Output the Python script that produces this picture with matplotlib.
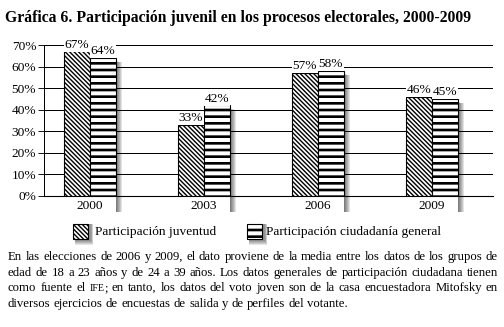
import matplotlib
matplotlib.use("Agg")
import matplotlib.pyplot as plt
from matplotlib.patches import Rectangle
import numpy as np

# ---- data ----
years = ["2000", "2003", "2006", "2009"]
juventud = [67, 33, 57, 46]
ciudadania = [64, 42, 58, 45]
series_names = ["Participación juventud", "Participación ciudadanía general"]
yticks = [0, 10, 20, 30, 40, 50, 60, 70]
ytick_labels = [f"{v}%" for v in yticks]

title = "Gráfica 6. Participación juvenil en los procesos electorales, 2000-2009"
caption_lines = [
    "En las elecciones de 2006 y 2009, el dato proviene de la media entre los datos de los grupos de",
    "edad de 18 a 23 años y de 24 a 39 años. Los datos generales de participación ciudadana tienen",
    "como fuente el IFE; en tanto, los datos del voto joven son de la casa encuestadora Mitofsky en",
    "diversos ejercicios de encuestas de salida y de perfiles del votante.",
]

W, H, DPI = 504, 327, 80
FONT = "Liberation Serif"
plt.rcParams["font.family"] = [FONT, "DejaVu Serif"]
plt.rcParams["hatch.color"] = "black"

HATCH_J, HATCH_C = "\\" * 6, "--"
LW_J, LW_C = 1.25, 2.4
LBL_FS = 12

fig = plt.figure(figsize=(W / DPI, H / DPI), dpi=DPI)
ax = fig.add_axes([44 / W, 1 - 196 / H, (493 - 44) / W, (196 - 45) / H])

x = np.arange(len(years))
bw = 0.228

ax.set_xlim(-0.40, 3.535)
ax.set_ylim(0, 70)
ax.set_yticks(yticks)
ax.set_yticklabels(ytick_labels, fontsize=LBL_FS)
ax.set_xticks(x)
ax.set_xticklabels(years, fontsize=LBL_FS)
ax.tick_params(axis="x", length=0, pad=4)
ax.tick_params(axis="y", length=5, width=0.8, pad=2, direction="out")
for s in ["top", "right"]:
    ax.spines[s].set_visible(False)
ax.spines["left"].set_linewidth(0.9)
ax.spines["bottom"].set_linewidth(1.0)
ax.yaxis.grid(True, color="black", linewidth=0.9)
ax.set_axisbelow(True)


def set_hlw(p, lw):
    try:
        p.set_hatch_linewidth(lw)
    except AttributeError:
        pass


plt.rcParams["hatch.linewidth"] = LW_J
b1 = ax.bar(x - bw / 2, juventud, bw, facecolor="white", edgecolor="black",
            hatch=HATCH_J, linewidth=1.0, zorder=3)
for p in b1:
    set_hlw(p, LW_J)
plt.rcParams["hatch.linewidth"] = LW_C
b2 = ax.bar(x + bw / 2, ciudadania, bw, facecolor="white", edgecolor="black",
            hatch=HATCH_C, linewidth=1.0, zorder=3)
for p in b2:
    set_hlw(p, LW_C)

# pixel -> data conversion
fig.canvas.draw()
p0 = ax.transData.transform((0, 0))
p1 = ax.transData.transform((1, 10))
px_x = 1 / (p1[0] - p0[0])
px_y = 10 / (p1[1] - p0[1])

# soft shadows on the right side of each group
for p, v in zip(b2, ciudadania):
    right = p.get_x() + p.get_width()
    for k in range(6):
        wpx = 1.5 + k
        ax.add_patch(Rectangle((right, -16 * px_y), wpx * px_x,
                               v - (3 + 0.3 * k) * px_y + 16 * px_y,
                               facecolor="black", alpha=0.11, edgecolor="none",
                               zorder=1.5, clip_on=False))

for bars, vals in ((b1, juventud), (b2, ciudadania)):
    for p, v in zip(bars, vals):
        ax.annotate(f"{v}%", (p.get_x() + p.get_width() / 2, v), xytext=(0, 0.5),
                    textcoords="offset points", ha="center", va="bottom", fontsize=LBL_FS,
                    zorder=4, bbox=dict(boxstyle="square,pad=0.05", fc="white", ec="none"))

# legend (manual, with shadows)
leg_items = [(73, 95, HATCH_J, LW_J), (247, 266, HATCH_C, LW_C)]
for (px0, tx, hatch, lw), name in zip(leg_items, series_names):
    size = 15
    ytop = 224
    for k in range(5):
        fig.patches.append(Rectangle(((px0 + 2) / W, 1 - (ytop + size + 1.5 + k) / H),
                                     (size + 1 + k * 0.6) / W, (size + 1.5 + k) / H,
                                     transform=fig.transFigure, facecolor="black",
                                     alpha=0.1, edgecolor="none", zorder=1))
    plt.rcParams["hatch.linewidth"] = lw
    rp = Rectangle((px0 / W, 1 - (ytop + size) / H), size / W, size / H,
                   transform=fig.transFigure, facecolor="white", edgecolor="black",
                   hatch=hatch, linewidth=1.0, zorder=2)
    set_hlw(rp, lw)
    fig.patches.append(rp)
    fig.text(tx / W, 1 - 231.5 / H, name, fontsize=12, ha="left", va="center")

# title
fig.text(5 / W, 1 - 22 / H, title, fontsize=14.2, fontweight="bold", ha="left", va="baseline")

# caption with full justification
r = fig.canvas.get_renderer()
LEFT, RIGHT = 8, 498


def seg_w(txt, fs):
    t = fig.text(0, 0, txt, fontsize=fs)
    w = t.get_window_extent(r).width
    t.remove()
    return w


def word_segments(word, fs):
    if word.startswith("IFE"):
        return [("IFE", fs * 0.78), (word[3:], fs)]
    return [(word, fs)]


def natural_width(line, fs):
    words = line.split(" ")
    wsum = sum(seg_w(s, f) for wd in words for s, f in word_segments(wd, fs) if s)
    return wsum + (len(words) - 1) * (seg_w("a a", fs) - seg_w("aa", fs))


base_fs = 10.0
maxw = max(natural_width(l, base_fs) for l in caption_lines[:3])
CAP_FS = base_fs * (RIGHT - LEFT - 6) / maxw

space_w = seg_w("a a", CAP_FS) - seg_w("aa", CAP_FS)
baseline0 = 260
lead = 15.6
for li, line in enumerate(caption_lines):
    words = line.split(" ")
    segs = [word_segments(wd, CAP_FS) for wd in words]
    widths = [sum(seg_w(s, f) for s, f in sg if s) for sg in segs]
    justify = li < len(caption_lines) - 1
    gap = (RIGHT - LEFT - sum(widths)) / (len(words) - 1) if justify else space_w
    xp = LEFT
    yb = 1 - (baseline0 + li * lead) / H
    for sg, wd in zip(segs, widths):
        xx = xp
        for s, f in sg:
            if not s:
                continue
            fig.text(xx / W, yb, s, fontsize=f, ha="left", va="baseline")
            xx += seg_w(s, f)
        xp += wd + gap

fig.savefig("out.png", dpi=DPI)
